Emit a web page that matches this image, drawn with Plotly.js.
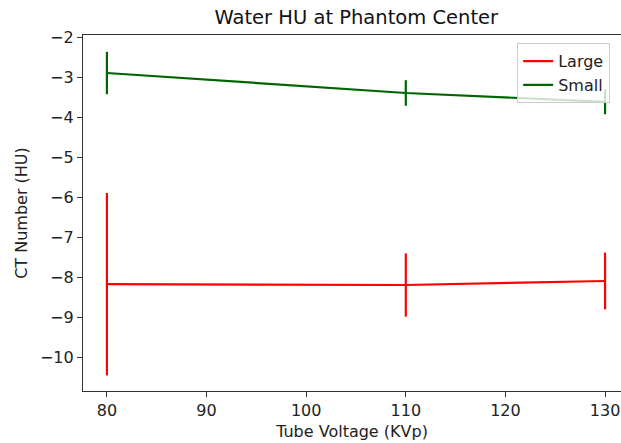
<!DOCTYPE html>
<html>
<head>
<meta charset="utf-8">
<script src="https://cdn.plot.ly/plotly-3.0.1.min.js"></script>
<style>html,body{margin:0;padding:0;background:#fff;}#chart{width:621px;height:443px;}</style>
</head>
<body>
<div id="chart"></div>
<script>
const voltages = [80, 110, 130];
const largeMean = [-8.16, -8.18, -8.08];
const largeErr = [2.28, 0.79, 0.71];
const smallMean = [-2.88, -3.38, -3.60];
const smallErr = [0.53, 0.32, 0.31];

const font = 'DejaVu Sans, sans-serif';

const traces = [
  {
    x: voltages, y: largeMean, name: 'Large', type: 'scatter', mode: 'lines',
    line: {color: '#ff0000', width: 2.2},
    error_y: {type: 'data', array: largeErr, visible: true, color: '#ff0000', thickness: 2.2, width: 0}
  },
  {
    x: voltages, y: smallMean, name: 'Small', type: 'scatter', mode: 'lines',
    line: {color: '#006400', width: 2.2},
    error_y: {type: 'data', array: smallErr, visible: true, color: '#006400', thickness: 2.2, width: 0}
  }
];

const layout = {
  width: 621, height: 443,
  margin: {l: 83, r: 0, t: 35, b: 52},
  paper_bgcolor: '#fff', plot_bgcolor: '#fff',
  font: {family: font, color: '#000', size: 16},
  title: {text: 'Water HU at Phantom Center', font: {family: font, size: 19.5, color: '#111'},
          x: 0.508, xref: 'paper', xanchor: 'center', y: 1, yref: 'container', yanchor: 'top', pad: {t: 10}},
  showlegend: true,
  legend: {x: 0.807, y: 0.977, xanchor: 'left', yanchor: 'top', bgcolor: 'rgba(255,255,255,0.8)',
           bordercolor: '#cccccc', borderwidth: 1, font: {family: font, size: 16, color: '#222'},
           tracegroupgap: 0},
  xaxis: {
    range: [77.6, 131.6], tickvals: [80, 90, 100, 110, 120, 130],
    showgrid: false, zeroline: false, showline: true, linecolor: '#333', linewidth: 1.1, mirror: true,
    ticks: 'outside', ticklen: 5, tickcolor: '#333', tickwidth: 1,
    tickfont: {family: font, size: 16, color: '#222'},
    title: {text: 'Tube Voltage (KVp)', font: {family: font, size: 16, color: '#222'}, standoff: 6}
  },
  yaxis: {
    range: [-10.83, -1.93], tickvals: [-10, -9, -8, -7, -6, -5, -4, -3, -2],
    showgrid: false, zeroline: false, showline: true, linecolor: '#333', linewidth: 1.1,
    ticks: 'outside', ticklen: 5, tickcolor: '#333', tickwidth: 1,
    tickfont: {family: font, size: 16, color: '#222'},
    title: {text: 'CT Number (HU)', font: {family: font, size: 16, color: '#222'}, standoff: 8}
  }
};

Plotly.newPlot('chart', traces, layout, {displayModeBar: false, staticPlot: true});
</script>
</body>
</html>
